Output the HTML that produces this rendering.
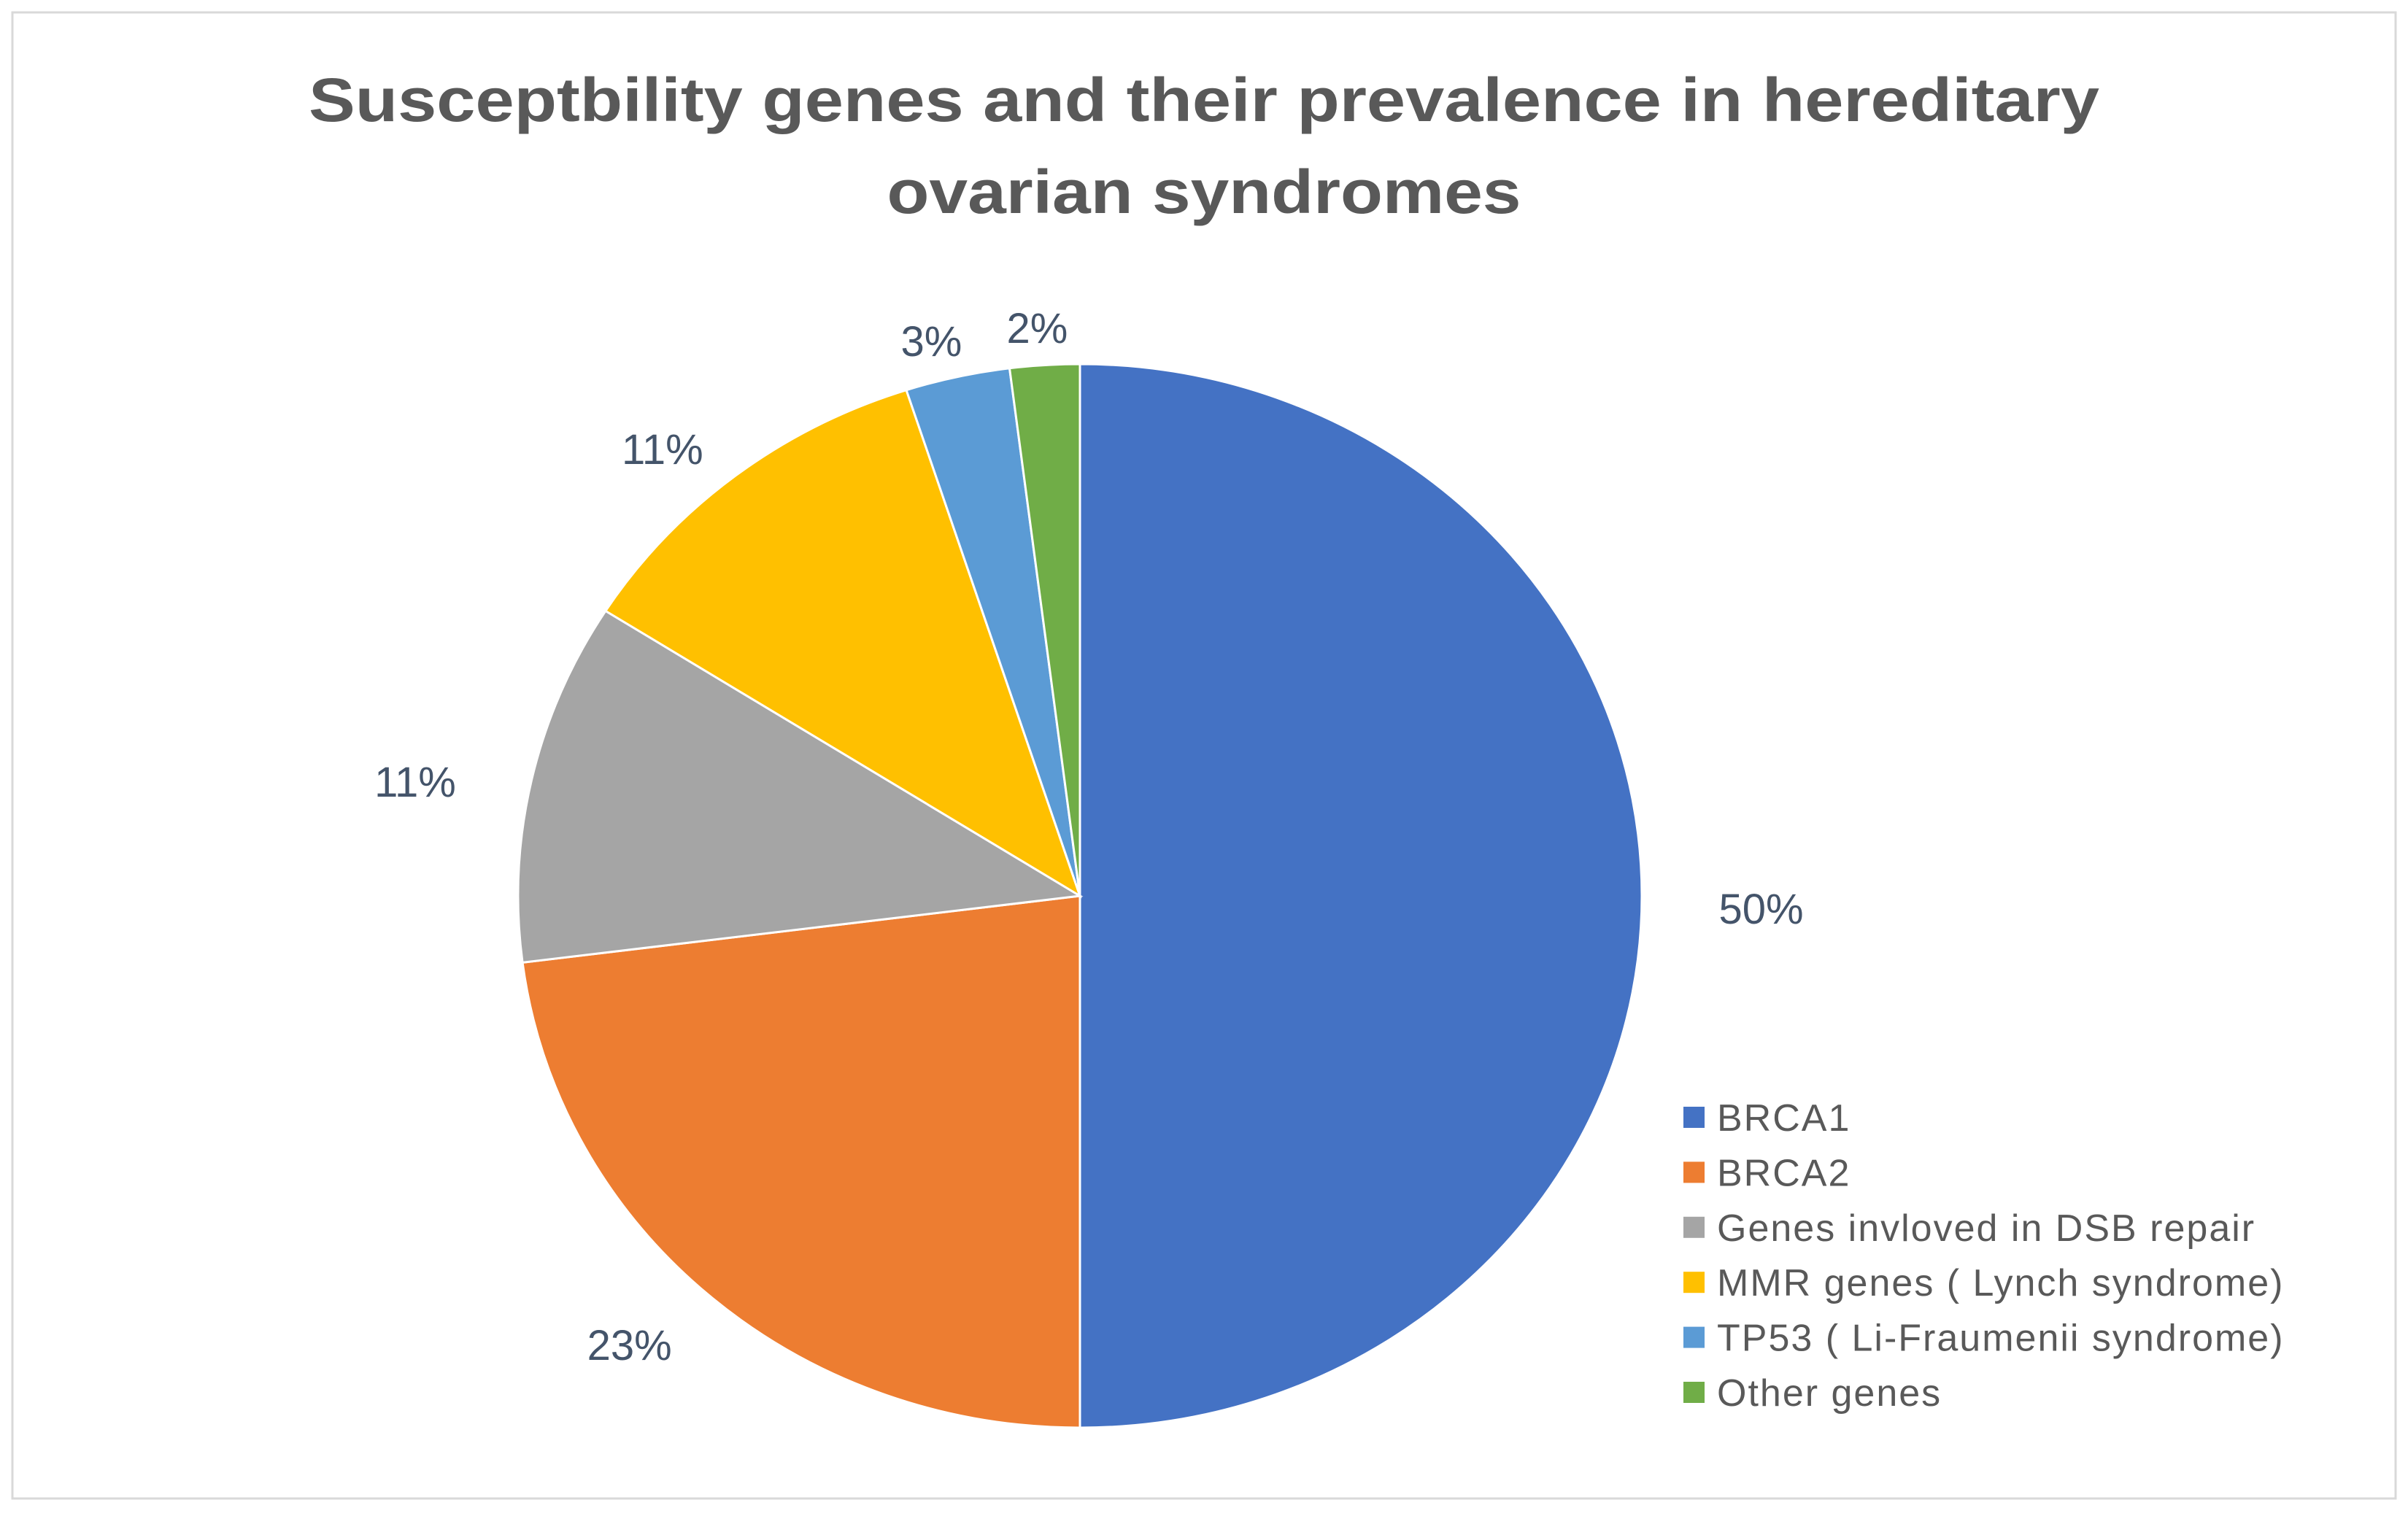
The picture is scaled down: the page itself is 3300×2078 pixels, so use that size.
<!DOCTYPE html>
<html><head><meta charset="utf-8"><style>
html,body{margin:0;padding:0;background:#fff;}
svg{display:block;font-family:"Liberation Sans",sans-serif;}
</style></head><body>
<svg id="chart" width="3300" height="2078" viewBox="0 0 3300 2078">
<rect x="17" y="17" width="3266" height="2037" fill="#fff" stroke="#d9d9d9" stroke-width="3"/>
<text x="1650" y="166" text-anchor="middle" font-size="84" font-weight="bold" fill="#595959" textLength="2454" lengthAdjust="spacingAndGlyphs">Susceptbility genes and their prevalence in hereditary</text>
<text x="1650" y="292" text-anchor="middle" font-size="84" font-weight="bold" fill="#595959" textLength="869" lengthAdjust="spacingAndGlyphs">ovarian syndromes</text>
<g id="slices"></g>
<g id="labels"></g>
<g id="legend"></g>
</svg>
<script>
const categories = ["BRCA1","BRCA2","Genes invloved in DSB repair","MMR genes ( Lynch syndrome)","TP53 ( Li-Fraumenii syndrome)","Other genes"];
const values = [50,23,11,11,3,2];
const valueLabels = ["50%","23%","11%","11%","3%","2%"];
const colors = ["#4472c4","#ed7d31","#a5a5a5","#ffc000","#5b9bd5","#70ad47"];
const names = ["brca1","brca2","dsb-repair","mmr-genes","tp53","other-genes"];
const ns="http://www.w3.org/2000/svg";
const cx=1480, cy=1228, rx=770, ry=729;
const total=values.reduce((a,b)=>a+b,0);
const gS=document.getElementById('slices'), gL=document.getElementById('labels'), gG=document.getElementById('legend');
function pt(a,fx,fy){return [cx+fx*Math.sin(a), cy-fy*Math.cos(a)];}
let acc=0;
values.forEach((v,i)=>{
  const a0=acc/total*2*Math.PI; acc+=v; const a1=acc/total*2*Math.PI;
  const p0=pt(a0,rx,ry), p1=pt(a1,rx,ry);
  const large=(a1-a0)>Math.PI?1:0;
  const p=document.createElementNS(ns,'path');
  p.setAttribute('d',`M${cx},${cy} L${p0[0]},${p0[1]} A${rx},${ry} 0 ${large} 1 ${p1[0]},${p1[1]} Z`);
  p.setAttribute('fill',colors[i]); p.setAttribute('stroke','#fff'); p.setAttribute('stroke-width','3');
  
  
  gS.appendChild(p);
  const am=(a0+a1)/2;
  const lp=pt(am,rx*1.05,ry*1.05);
  const lx=lp[0]+Math.sin(am)*125;
  const ly=lp[1]-Math.cos(am)*32;
  const t=document.createElementNS(ns,'text');
  t.setAttribute('x',lx); t.setAttribute('y',ly+38);
  t.setAttribute('text-anchor','middle'); t.setAttribute('font-size','58'); t.setAttribute('fill','#44546a');
  t.textContent=valueLabels[i];
  
  
  gL.appendChild(t);
  const y=1532+i*75.4;
  const r=document.createElementNS(ns,'rect');
  r.setAttribute('x',2307); r.setAttribute('y',y-15); r.setAttribute('width',29); r.setAttribute('height',29); r.setAttribute('fill',colors[i]);
  
  
  gG.appendChild(r);
  const lt=document.createElementNS(ns,'text');
  lt.setAttribute('x',2353); lt.setAttribute('y',y+18); lt.setAttribute('font-size','52'); lt.setAttribute('letter-spacing','2'); lt.setAttribute('fill','#595959');
  lt.textContent=categories[i];
  
  
  gG.appendChild(lt);
});
</script>
</body></html>
